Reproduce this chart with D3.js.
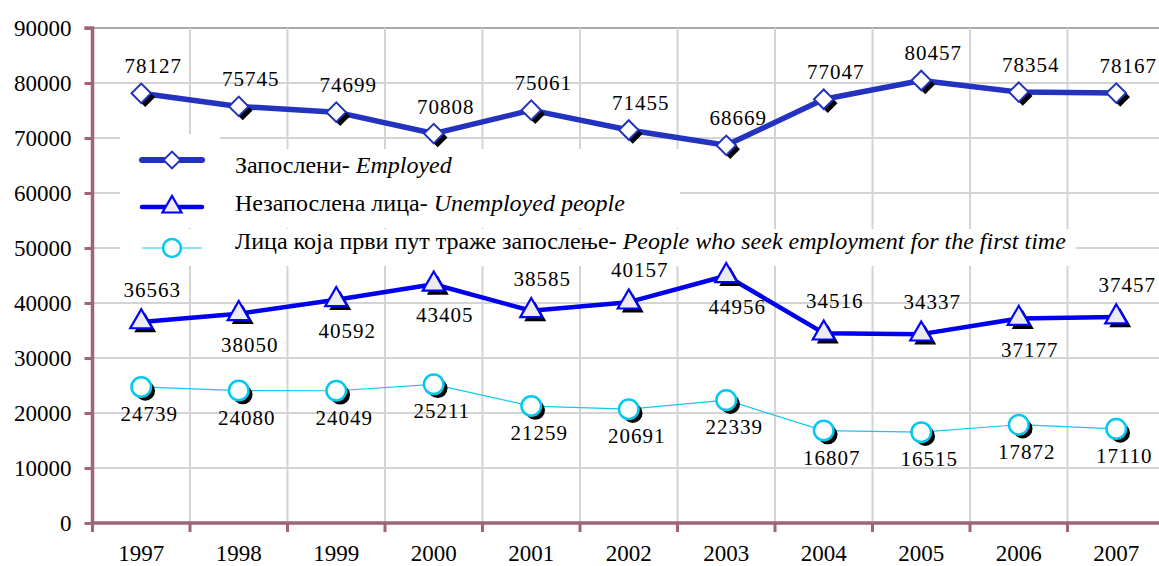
<!DOCTYPE html>
<html>
<head>
<meta charset="utf-8">
<script src="https://cdn.jsdelivr.net/npm/d3@7"></script>
<style>
  html, body { margin: 0; padding: 0; background: #fff; }
  svg { display: block; }
  text { font-family: "Liberation Serif", "Times New Roman", serif; fill: #000; }
</style>
</head>
<body>
<svg id="chart" width="1159" height="566"></svg>
<script>
const years = ['1997','1998','1999','2000','2001','2002','2003','2004','2005','2006','2007'];
const employed = [78127,75745,74699,70808,75061,71455,68669,77047,80457,78354,78167];
const unemployed = [36563,38050,40592,43405,38585,40157,44956,34516,34337,37177,37457];
const firstTime = [24739,24080,24049,25211,21259,20691,22339,16807,16515,17872,17110];
const employedLabelSide = ['above','above','above','above','above','above','above','above','above','above','above'];
const unemployedLabelSide = ['above','below','below','below','above','above','below','above','above','below','above'];
const firstTimeLabelSide = ['below','below','below','below','below','below','below','below','below','below','below'];
const yTicks = [0,10000,20000,30000,40000,50000,60000,70000,80000,90000];
const legendCyr = ['Запослени', 'Незапослена лица', 'Лица која први пут траже запослење'];
const legendEng = ['Employed', 'Unemployed people', 'People who seek employment for the first time'];

(function () {
const svg = d3.select('#chart');
const W = 1159;
const pLeft = 92.5, pRight = 1165, pTop = 28, pBottom = 523;
const axisColor = '#a06479';
const gridColor = '#d4d4d4';

const x = d3.scaleBand().domain(years).range([pLeft, pRight]).padding(0);
const y = d3.scaleLinear().domain([0, 90000]).range([pBottom, pTop]);
const cx = d => x(d) + x.bandwidth() / 2;

// horizontal gridlines
svg.append('g').selectAll('line').data(yTicks.filter(t => t > 0 && t < 90000)).join('line')
  .attr('x1', pLeft).attr('x2', W).attr('y1', d => y(d)).attr('y2', d => y(d))
  .attr('stroke', gridColor).attr('stroke-width', 2);
// top border
svg.append('line').attr('x1', pLeft).attr('x2', W).attr('y1', y(90000)).attr('y2', y(90000))
  .attr('stroke', '#a8a8a8').attr('stroke-width', 2);
// vertical gridlines at band boundaries
svg.append('g').selectAll('line').data(years.slice(1)).join('line')
  .attr('x1', d => x(d)).attr('x2', d => x(d)).attr('y1', pTop).attr('y2', pBottom)
  .attr('stroke', gridColor).attr('stroke-width', 2);

// legend backgrounds (white boxes covering gridlines)
const lg = svg.append('g');
lg.append('rect').attr('x', 120).attr('y', 134).attr('width', 100).attr('height', 54).attr('fill', '#fff');
lg.append('rect').attr('x', 120).attr('y', 149).attr('width', 560).attr('height', 79).attr('fill', '#fff');
lg.append('rect').attr('x', 120).attr('y', 229).attr('width', 956).attr('height', 37).attr('fill', '#fff');

// axes
const yAxis = d3.axisLeft(y).tickValues(yTicks).tickSize(8).tickFormat(d3.format('d'));
const yg = svg.append('g').attr('transform', `translate(${pLeft},0)`).call(yAxis);
yg.select('.domain').attr('stroke', axisColor).attr('stroke-width', 3.5).attr('d', `M-8,${pTop}H0V${pBottom}`);
yg.selectAll('.tick line').attr('stroke', axisColor).attr('stroke-width', 3);
yg.selectAll('.tick text').attr('x', -21).attr('dy', '0.34em')
  .style('font-family', '"Liberation Serif", serif').style('font-size', '23px').attr('fill', '#000');

const xAxis = d3.axisBottom(x).tickSize(0);
const xg = svg.append('g').attr('transform', `translate(0,${pBottom})`).call(xAxis);
xg.select('.domain').attr('stroke', axisColor).attr('stroke-width', 3.5).attr('d', `M${pLeft},0H${pRight}`);
xg.selectAll('.tick text').attr('y', 38).attr('dy', 0)
  .style('font-family', '"Liberation Serif", serif').style('font-size', '23px').attr('fill', '#000');
// x tick marks at band boundaries
svg.append('g').selectAll('line').data(years).join('line')
  .attr('x1', d => x(d)).attr('x2', d => x(d)).attr('y1', pBottom).attr('y2', pBottom + 9)
  .attr('stroke', axisColor).attr('stroke-width', 3);

// series definitions
const series = [
  { values: employed, color: '#2432c0', width: 5.5, sym: d3.symbolSquare, size: 190, rot: 45, fill: '#fff', stroke: '#2233bb', sw: 2, sides: employedLabelSide, dx: 12, above: -20, below: 36 },
  { values: unemployed, color: '#0000ee', width: 4.5, sym: d3.symbolTriangle, size: 210, rot: 0, fill: '#ececf0', stroke: '#0000ff', sw: 2.2, sides: unemployedLabelSide, dx: 11, above: -25, below: 38 },
  { values: firstTime, color: '#12c8ee', width: 1.2, sym: d3.symbolCircle, size: 300, rot: 0, fill: '#fff', stroke: '#00c8f0', sw: 2.5, sides: firstTimeLabelSide, dx: 8, above: -20, below: 34 }
];

const line = d3.line();
series.forEach(s => {
  const pts = years.map((yr, i) => [cx(yr), y(s.values[i])]);
  svg.append('path').attr('d', line(pts)).attr('fill', 'none')
    .attr('stroke', s.color).attr('stroke-width', s.width).attr('stroke-linejoin', 'round');
  const symPath = d3.symbol().type(s.sym).size(s.size)();
  svg.append('g').selectAll('path').data(pts).join('path')
    .attr('d', symPath)
    .attr('transform', p => `translate(${p[0] + 4},${p[1] + 4}) rotate(${s.rot})`)
    .attr('fill', '#000');
  svg.append('g').selectAll('path').data(pts).join('path')
    .attr('d', symPath)
    .attr('transform', p => `translate(${p[0]},${p[1]}) rotate(${s.rot})`)
    .attr('fill', s.fill).attr('stroke', s.stroke).attr('stroke-width', s.sw);
  svg.append('g').selectAll('text').data(years).join('text')
    .attr('x', (yr) => cx(yr) + s.dx)
    .attr('y', (yr, i) => y(s.values[i]) + (s.sides[i] === 'above' ? s.above : s.below))
    .attr('text-anchor', 'middle')
    .style('font-size', '21px').style('letter-spacing', '1px')
    .text((yr, i) => s.values[i]);
});

// legend
const legY = [160, 207, 248];
const legText = [173, 211, 249];
series.forEach((s, i) => {
  const g = svg.append('g');
  g.append('line').attr('x1', 142).attr('x2', 202).attr('y1', legY[i]).attr('y2', legY[i])
    .attr('stroke', s.color).attr('stroke-width', i === 0 ? 6 : s.width).attr('stroke-linecap', i < 2 ? 'round' : 'butt');
  g.append('path').attr('d', d3.symbol().type(s.sym).size(i === 2 ? 250 : s.size * 0.75)())
    .attr('transform', `translate(172,${legY[i]}) rotate(${s.rot})`)
    .attr('fill', s.fill).attr('stroke', s.stroke).attr('stroke-width', s.sw);
  const t = g.append('text').attr('x', 235).attr('y', legText[i]).style('font-size', '24px');
  t.append('tspan').text(legendCyr[i] + '- ');
  t.append('tspan').style('font-style', 'italic').text(legendEng[i]);
});
})();
</script>
</body>
</html>
